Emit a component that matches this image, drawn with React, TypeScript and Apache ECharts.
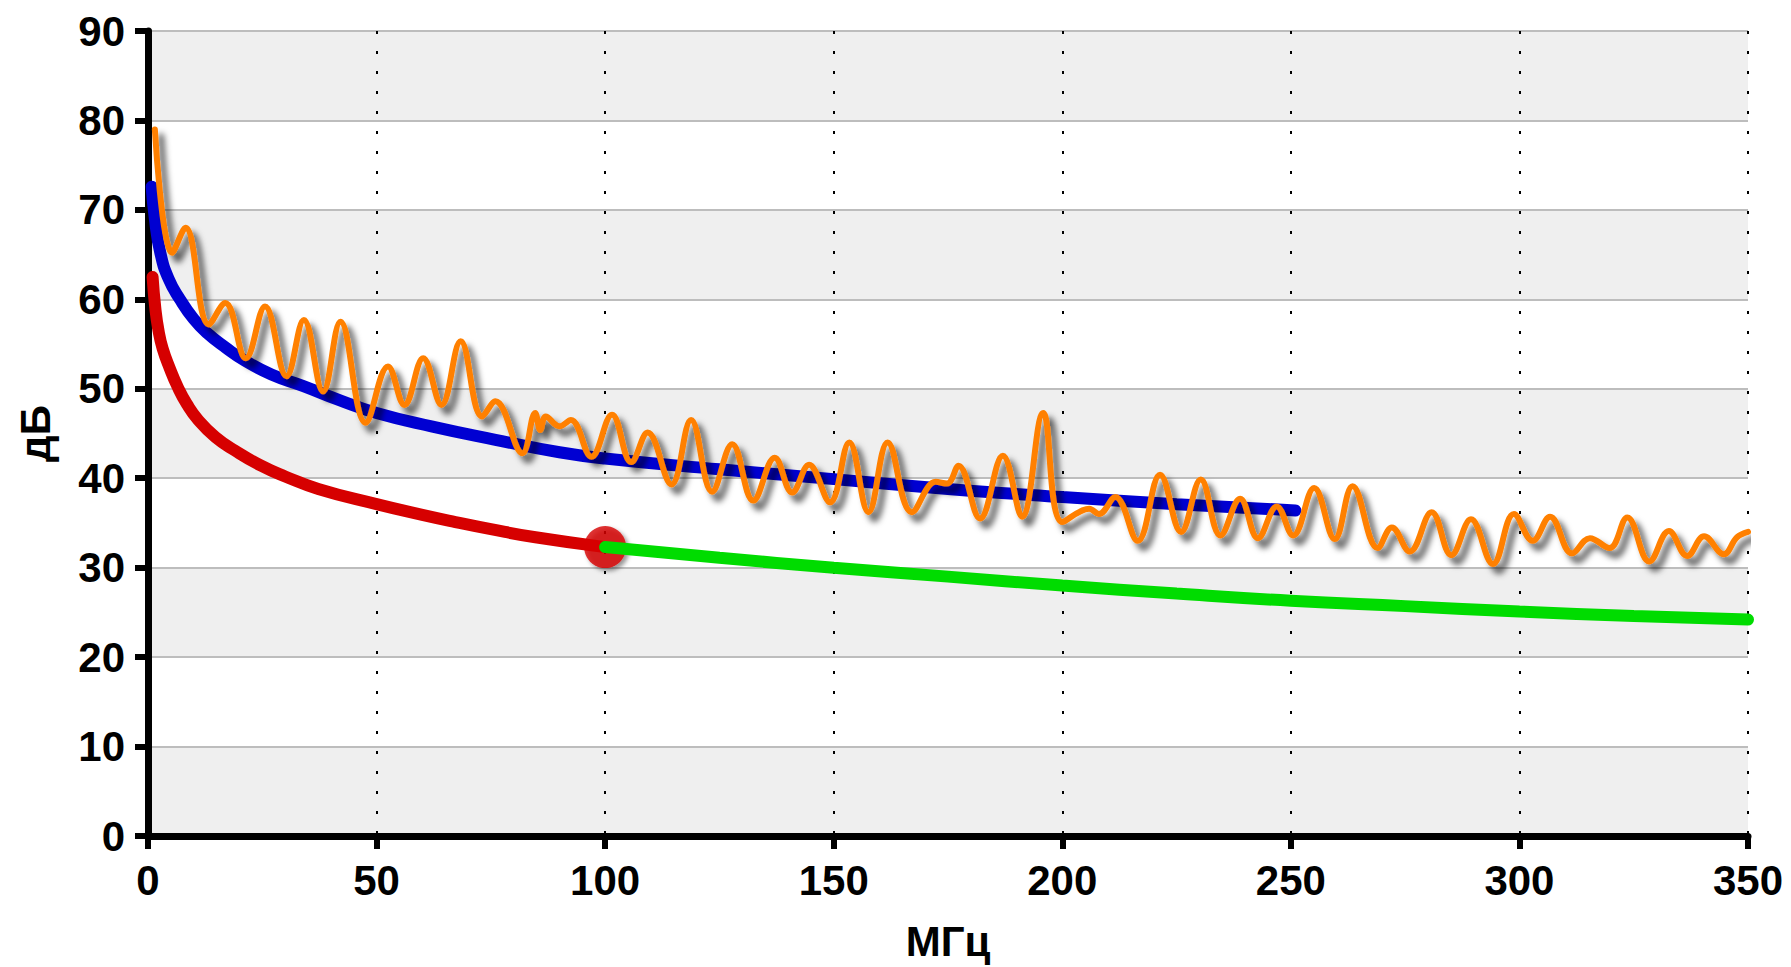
import React, { useEffect, useRef } from "react";
import * as echarts from "echarts";

const xTicks = [0, 50, 100, 150, 200, 250, 300, 350];
const yTicks = [0, 10, 20, 30, 40, 50, 60, 70, 80, 90];

const blueFreq = [0.8, 1.5, 2.7, 4.5, 7, 10, 13, 17, 21, 27, 34, 42, 50, 62, 76, 90, 100, 125, 150, 175, 200, 225, 251];
const blueDb = [72.6, 69, 65.2, 62.3, 60, 57.8, 56.2, 54.6, 53.2, 51.6, 50.3, 48.7, 47.3, 45.8, 44.3, 42.9, 42.2, 41, 39.9, 38.8, 37.9, 37.1, 36.4];

const redFreq = [1, 1.6, 2.3, 3.2, 4.75, 6.5, 8.5, 11, 14.75, 19, 24.75, 30, 37.25, 50, 60, 67.25, 75, 84.75, 100];
const redDb = [62.5, 59, 56.5, 54.5, 52.3, 50.2, 48.3, 46.5, 44.6, 43.1, 41.4, 40.2, 38.8, 37.1, 35.9, 35.1, 34.3, 33.4, 32.3];

const greenFreq = [100, 125, 150, 175, 200, 225, 250, 275, 300, 325, 350];
const greenDb = [32.3, 31.1, 30.0, 29.0, 28.0, 27.1, 26.3, 25.7, 25.1, 24.6, 24.2];

const markerFreq = [100];
const markerDb = [32.3];

const orangeFreq = [
  1.5, 5.3, 8.2, 13.3, 16.9, 21.4, 25.6, 30.3, 34.1, 38.3, 42.1, 47.6, 52.5, 56.1, 60.2, 64.2, 68.4, 73.1, 76, 81.9,
  84.7, 85.8, 87, 90, 92.5, 97, 101.5, 105.7, 109.3, 114.5, 118.8, 123.4, 127.8, 132.4, 137.1, 140.9, 144.6, 149.2,
  153.4, 157.6, 161.8, 167.1, 172.3, 174.8, 177.3, 182, 187, 191.2, 195.8, 200, 205.9, 208, 211.6, 216.5, 221.4, 226,
  230.3, 234.6, 238.9, 242.8, 246.9, 250.5, 255.1, 259.6, 263.5, 269, 272.1, 276, 280.8, 285.1, 289.4, 294.2, 298.8,
  302.9, 306.7, 311.5, 315.4, 319.7, 323.6, 328.4, 332.7, 336.7, 340.4, 344.7, 347.6, 350,
];
const orangeDb = [
  79.0, 65.2, 68.0, 57.2, 59.6, 53.4, 59.2, 51.4, 57.7, 49.7, 57.5, 46.2, 52.5, 48.2, 53.4, 48.2, 55.3, 46.9, 48.6, 42.8,
  47.3, 45.4, 46.9, 45.8, 46.5, 42.4, 47.1, 41.8, 45.1, 39.3, 46.5, 38.5, 43.8, 37.5, 42.3, 38.4, 41.5, 37.3,
  44.0, 36.2, 44.0, 36.2, 39.6, 39.4, 41.4, 35.5, 42.5, 35.7, 47.3, 35.1, 36.6, 36.0, 37.9, 33.0, 40.4, 34.0,
  39.85, 33.6, 37.7, 33.3, 36.85, 33.6, 38.9, 33.2, 39.1, 32.2, 34.5, 31.8, 36.2, 31.4, 35.4, 30.4, 36.0,
  33.0, 35.7, 31.6, 33.3, 32.2, 35.6, 30.7, 34.1, 31.3, 33.5, 31.5, 33.4, 34.0,
];

const pairs = (xs: number[], ys: number[]) => xs.map((x, i) => [x, ys[i]]);

const FONT = "'Liberation Sans', Arial, sans-serif";

export default function App() {
  const ref = useRef<HTMLDivElement>(null);
  useEffect(() => {
    if (!ref.current) return;
    const chart = echarts.init(ref.current, undefined, { renderer: "svg" });
    const labelStyle = { fontSize: 42, fontWeight: "bold" as const, color: "#000", fontFamily: FONT };
    chart.setOption({
      animation: false,
      backgroundColor: "#ffffff",
      grid: { left: 148, right: 43, top: 31, bottom: 130, containLabel: false },
      xAxis: {
        type: "value",
        min: xTicks[0],
        max: xTicks[xTicks.length - 1],
        interval: xTicks[1] - xTicks[0],
        name: "МГц",
        nameLocation: "middle",
        nameGap: 84,
        nameTextStyle: labelStyle,
        axisLine: { show: true, onZero: false, lineStyle: { color: "#000", width: 7 } },
        axisTick: { show: true, length: 13, lineStyle: { color: "#000", width: 6 } },
        axisLabel: { ...labelStyle, margin: 23 },
        splitLine: { show: true, lineStyle: { color: "#000", width: 2, type: [3, 17] } },
        splitArea: { show: false },
      },
      yAxis: {
        type: "value",
        min: yTicks[0],
        max: yTicks[yTicks.length - 1],
        interval: yTicks[1] - yTicks[0],
        name: "дБ",
        nameLocation: "middle",
        nameRotate: 90,
        nameGap: 92,
        nameTextStyle: labelStyle,
        axisLine: { show: true, onZero: false, lineStyle: { color: "#000", width: 7 } },
        axisTick: { show: true, length: 13, lineStyle: { color: "#000", width: 6 } },
        axisLabel: { ...labelStyle, margin: 23 },
        splitLine: { show: true, lineStyle: { color: "#bdbdbd", width: 2 } },
        splitArea: { show: true, areaStyle: { color: ["#efefef", "#ffffff"] } },
      },
      series: [
        {
          type: "line",
          data: pairs(blueFreq, blueDb),
          smooth: true,
          showSymbol: false,
          silent: true,
          lineStyle: { color: "#0000d2", width: 12, cap: "round" },
        },
        {
          type: "line",
          data: pairs(redFreq, redDb),
          smooth: true,
          showSymbol: false,
          silent: true,
          lineStyle: { color: "#d60000", width: 12, cap: "round" },
        },
        {
          type: "line",
          data: pairs(greenFreq, greenDb),
          smooth: true,
          showSymbol: false,
          silent: true,
          lineStyle: { color: "#00dc00", width: 12, cap: "round" },
        },
        {
          type: "line",
          data: pairs(orangeFreq, orangeDb),
          smooth: 0.4,
          showSymbol: false,
          silent: true,
          lineStyle: {
            color: "#ff8000",
            width: 6,
            cap: "round",
            join: "round",
            shadowColor: "rgba(0,0,0,0.65)",
            shadowBlur: 6,
            shadowOffsetX: 6,
            shadowOffsetY: 7,
          },
        },
        {
          type: "scatter",
          data: pairs(markerFreq, markerDb),
          symbol: "circle",
          symbolSize: 42,
          silent: true,
          itemStyle: {
            color: "#d60000",
            shadowColor: "rgba(0,0,0,0.5)",
            shadowBlur: 4,
            shadowOffsetX: 3,
            shadowOffsetY: 3,
          },
        },
      ],
    });
    return () => chart.dispose();
  }, []);
  return (
    <div
      ref={ref}
      style={{ position: "absolute", left: 0, top: 0, width: 1791, height: 967 }}
    />
  );
}
